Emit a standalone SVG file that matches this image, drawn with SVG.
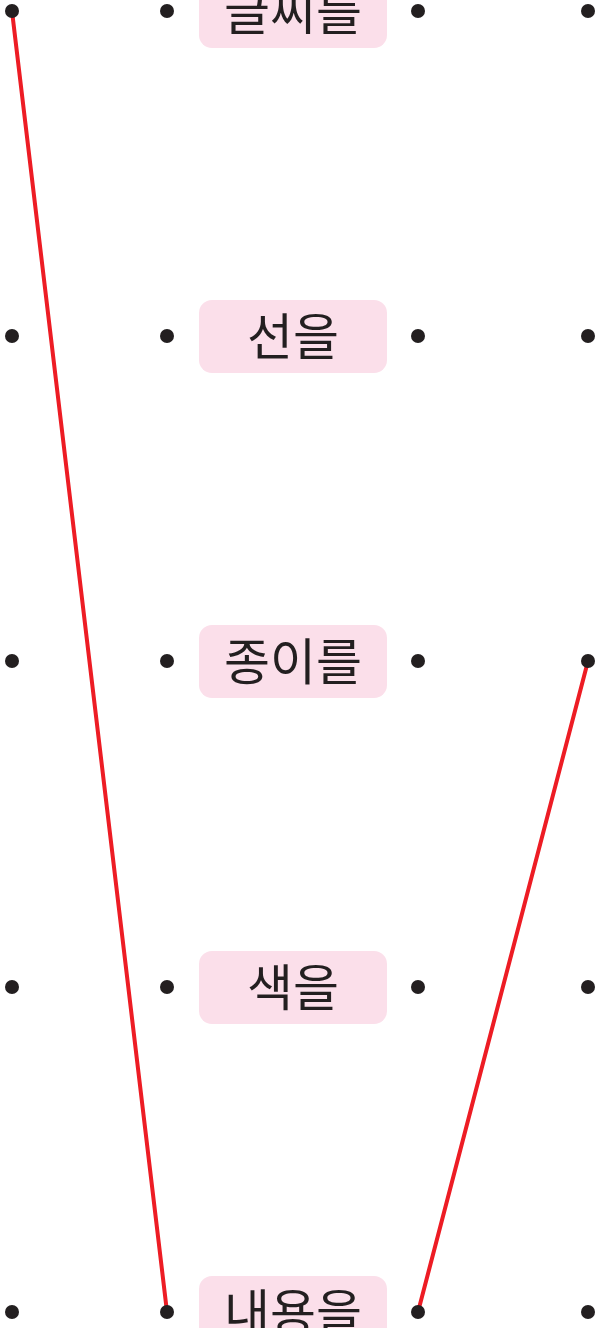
<svg xmlns="http://www.w3.org/2000/svg" width="596" height="1328" viewBox="0 0 596 1328">
<style>
.box{fill:#fbdfea}
.lbl{font-family:"Noto Sans CJK KR","Noto Sans",sans-serif;font-size:50px;fill:#231f20;text-anchor:middle}
.dot{fill:#231f20}
.ln{stroke:#ed1c24;stroke-width:4;fill:none;stroke-linecap:round}
</style>
<rect width="596" height="1328" fill="#fff"/>
<g id="connectors">
<line class="ln" x1="12" y1="11" x2="167" y2="1312"/>
<line class="ln" x1="418" y1="1312" x2="588" y2="661"/>
</g>
<g id="node-1">
<rect class="box" x="199" y="-25" width="188" height="73" rx="13"/>
<text class="lbl" x="293" y="30">글씨를</text>
</g>
<g id="node-2">
<rect class="box" x="199" y="300" width="188" height="73" rx="13"/>
<text class="lbl" x="293" y="355">선을</text>
</g>
<g id="node-3">
<rect class="box" x="199" y="625" width="188" height="73" rx="13"/>
<text class="lbl" x="293" y="680">종이를</text>
</g>
<g id="node-4">
<rect class="box" x="199" y="951" width="188" height="73" rx="13"/>
<text class="lbl" x="293" y="1006">색을</text>
</g>
<g id="node-5">
<rect class="box" x="199" y="1276" width="188" height="73" rx="13"/>
<text class="lbl" x="293" y="1331">내용을</text>
</g>
<g id="dots">
<circle class="dot" cx="12" cy="11" r="7"/><circle class="dot" cx="167" cy="11" r="7"/><circle class="dot" cx="418" cy="11" r="7"/><circle class="dot" cx="588" cy="11" r="7"/>
<circle class="dot" cx="12" cy="336" r="7"/><circle class="dot" cx="167" cy="336" r="7"/><circle class="dot" cx="418" cy="336" r="7"/><circle class="dot" cx="588" cy="336" r="7"/>
<circle class="dot" cx="12" cy="661" r="7"/><circle class="dot" cx="167" cy="661" r="7"/><circle class="dot" cx="418" cy="661" r="7"/><circle class="dot" cx="588" cy="661" r="7"/>
<circle class="dot" cx="12" cy="987" r="7"/><circle class="dot" cx="167" cy="987" r="7"/><circle class="dot" cx="418" cy="987" r="7"/><circle class="dot" cx="588" cy="987" r="7"/>
<circle class="dot" cx="12" cy="1312" r="7"/><circle class="dot" cx="167" cy="1312" r="7"/><circle class="dot" cx="418" cy="1312" r="7"/><circle class="dot" cx="588" cy="1312" r="7"/>
</g>
</svg>
